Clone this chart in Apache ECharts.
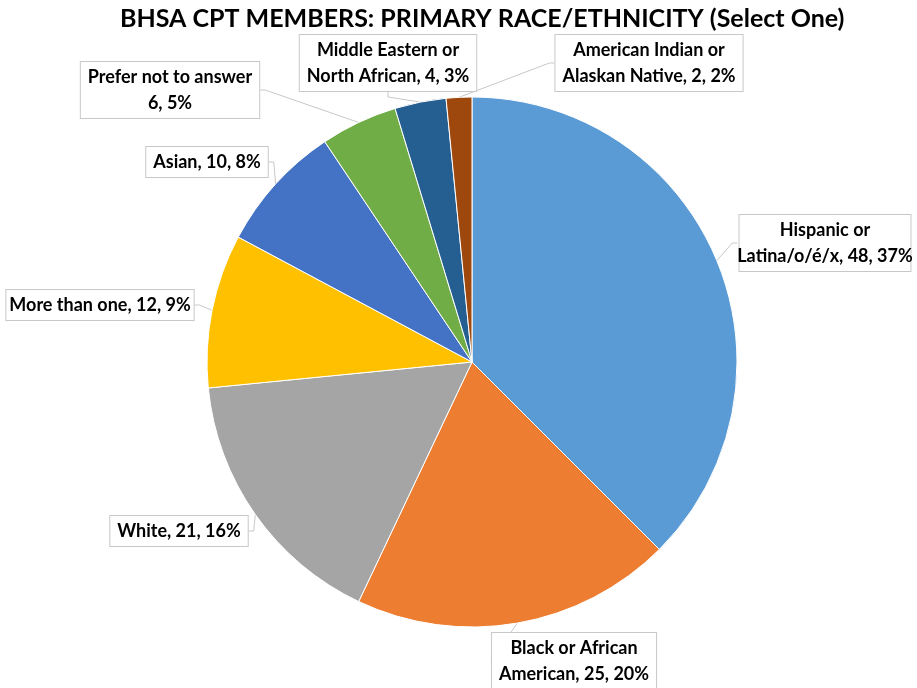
<!DOCTYPE html>
<html>
<head>
<meta charset="utf-8">
<script src="https://cdn.jsdelivr.net/npm/echarts@6/dist/echarts.min.js"></script>
<style>
  html, body { margin: 0; padding: 0; background: #fff; }
  #chart { width: 917px; height: 688px; }
</style>
</head>
<body>
<div id="chart"></div>
<script>
// categories, in drawing order (clockwise from 12 o'clock)
var categories = [
  'Hispanic or\nLatina/o/é/x',
  'Black or African\nAmerican',
  'White',
  'More than one',
  'Asian',
  'Prefer not to answer\n',
  'Middle Eastern or\nNorth African',
  'American Indian or\nAlaskan Native'
];
var counts = [48, 25, 21, 12, 10, 6, 4, 2];
var percents = ['37%', '20%', '16%', '9%', '8%', '5%', '3%', '2%'];
var colors = ['#5b9bd5', '#ed7d31', '#a5a5a5', '#ffc000', '#4472c4', '#70ad47', '#255e91', '#9e480e'];

// where each label box sits (centre of box)
var labelPos = [
  [825, 243], [574, 661], [179, 531], [100, 305],
  [207, 162], [170, 90], [388, 63], [649, 63]
];

var chart = echarts.init(document.getElementById('chart'));

var data = categories.map(function (c, i) {
  return { name: c, value: counts[i], itemStyle: { color: colors[i] } };
});

var option = {
  animation: false,
  title: {
    text: 'BHSA CPT MEMBERS: PRIMARY RACE/ETHNICITY (Select One)',
    left: 115,
    top: 1,
    textStyle: {
      fontFamily: 'Lato',
      fontWeight: 'bold',
      fontSize: 25,
      color: '#000'
    }
  },
  series: [
    {
      type: 'pie',
      center: [472, 362],
      radius: 265,
      startAngle: 90,
      clockwise: true,
      data: data,
      itemStyle: { borderColor: '#fff', borderWidth: 1 },
      label: {
        show: true,
        formatter: function (p) {
          var name = p.name;
          var pct = percents[p.dataIndex];
          if (name.charAt(name.length - 1) === '\n') {
            return name + p.value + ', ' + pct;
          }
          return name + ', ' + p.value + ', ' + pct;
        },
        overflow: 'none',
        alignTo: 'none',
        fontFamily: 'Lato',
        fontWeight: 'bold',
        fontSize: 18,
        lineHeight: 26,
        color: '#000',
        align: 'center',
        backgroundColor: '#fff',
        borderColor: '#c8c8c8',
        borderWidth: 1,
        padding: [2, 7]
      },
      labelLine: {
        show: true,
        length: 10,
        length2: 5,
        lineStyle: { color: '#c8c8c8', width: 1 }
      },
      labelLayout: function (params) {
        var p = labelPos[params.dataIndex];
        return {
          x: p[0],
          y: p[1],
          align: 'center',
          verticalAlign: 'middle',
          moveOverlap: false
        };
      }
    }
  ]
};

chart.setOption(option);
</script>
</body>
</html>
